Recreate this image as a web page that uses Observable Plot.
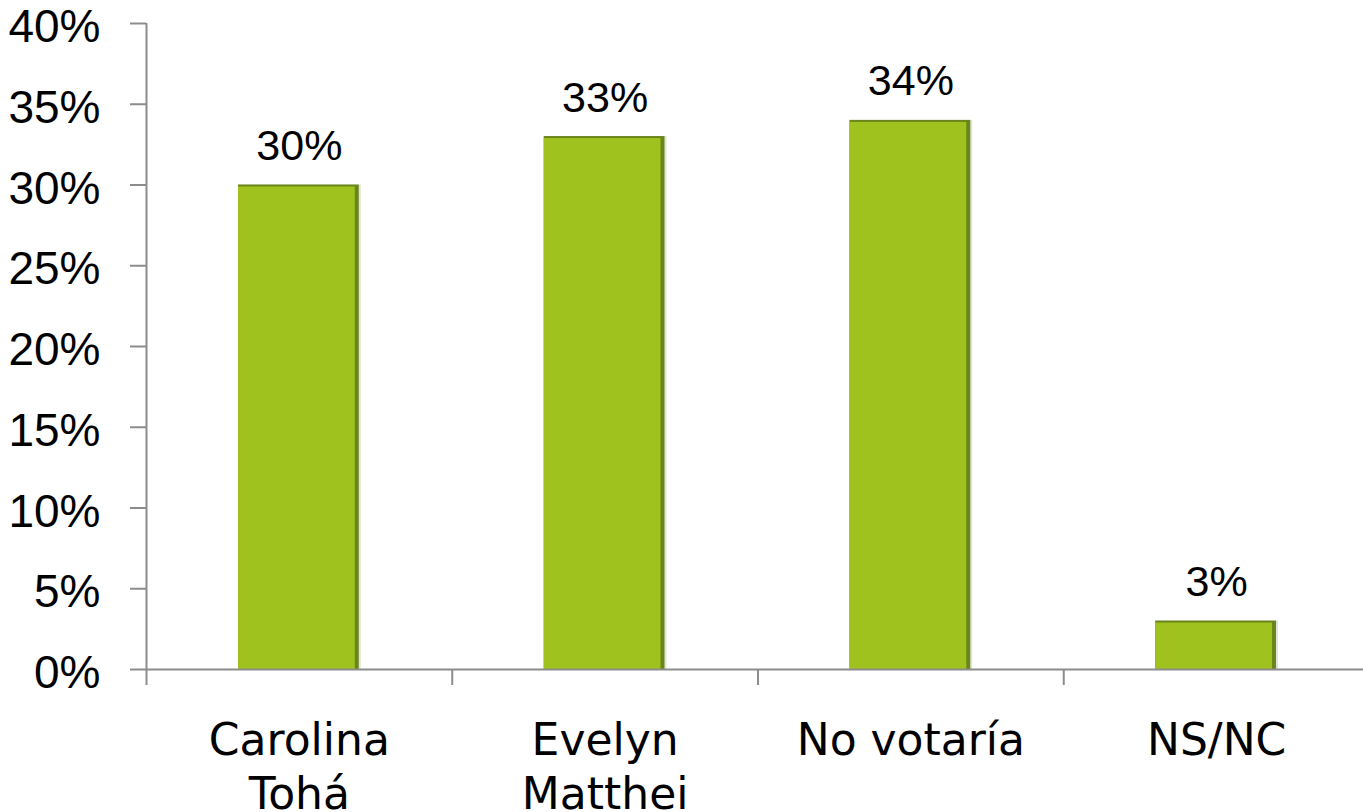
<!DOCTYPE html>
<html>
<head>
<meta charset="utf-8">
<script src="https://cdn.jsdelivr.net/npm/d3@7"></script>
<script src="https://cdn.jsdelivr.net/npm/@observablehq/plot@0.6"></script>
<style>
  html, body { margin: 0; padding: 0; background: #ffffff; }
  #chart svg { display: block; }
</style>
</head>
<body>
<div id="chart"></div>
<script>
const categories = ["Carolina Tohá", "Evelyn Matthei", "No votaría", "NS/NC"];
const axisLabels = ["Carolina\nTohá", "Evelyn\nMatthei", "No votaría", "NS/NC"];
const values = [0.30, 0.33, 0.34, 0.03];
const valueLabels = ["30%", "33%", "34%", "3%"];
const yTicks = [0, 0.05, 0.10, 0.15, 0.20, 0.25, 0.30, 0.35, 0.40];
const yTickLabels = ["0%", "5%", "10%", "15%", "20%", "25%", "30%", "35%", "40%"];

const data = categories.map((c, i) => ({
  category: c, label: axisLabels[i], value: values[i], text: valueLabels[i], pos: i
}));
const yTickData = yTicks.map((v, i) => ({ value: v, label: yTickLabels[i] }));

const axisColor = "#8c8c8c";
const barColor = "#a0c21e";
const edgeColor = "#6a851c";
const numFont = "'Liberation Sans', Arial, sans-serif";
const labelFont = "'DejaVu Sans', sans-serif";

const plot = Plot.plot({
  width: 1363,
  height: 812,
  marginLeft: 146,
  marginRight: 0,
  marginTop: 23,
  marginBottom: 143,
  style: { fontFamily: numFont, background: "#ffffff", color: "#000" },
  x: { domain: [0, categories.length], range: [146, 1369], axis: null, label: null },
  y: { domain: [0, 0.4], axis: null, label: null },
  marks: [
    Plot.axisY({
      ticks: yTicks,
      tickFormat: () => "",
      tickSize: 16,
      stroke: axisColor,
      strokeWidth: 2,
      label: null
    }),
    Plot.text(yTickData, {
      x: 0, y: "value", text: "label", textAnchor: "end",
      dx: -46, dy: 4, fontSize: 46, fill: "#000"
    }),
    Plot.axisX({
      ticks: d3.range(categories.length + 1),
      tickFormat: () => "",
      tickSize: 16,
      stroke: axisColor,
      strokeWidth: 2,
      label: null
    }),
    Plot.rectY(data, {
      x1: "pos", x2: (d) => d.pos + 1, y1: 0, y2: "value",
      insetLeft: 92, insetRight: 91, fill: "#dfe6d3"
    }),
    Plot.rectY(data, {
      x1: "pos", x2: (d) => d.pos + 1, y1: 0, y2: "value",
      insetLeft: 92, insetRight: 93, fill: edgeColor
    }),
    Plot.rectY(data, {
      x1: "pos", x2: (d) => d.pos + 1, y1: 0, y2: "value",
      insetLeft: 92, insetRight: 97, insetTop: 2, fill: barColor
    }),
    Plot.ruleX([0], { stroke: axisColor, strokeWidth: 2 }),
    Plot.ruleY([0], { stroke: axisColor, strokeWidth: 2 }),
    Plot.text(data, {
      x: (d) => d.pos + 0.5, y: "value", text: "text",
      lineAnchor: "bottom", dy: -25, fontSize: 43, fill: "#000"
    }),
    Plot.text(data, {
      x: (d) => d.pos + 0.5, y: 0, text: "label",
      lineAnchor: "top", dy: 47, fontSize: 44, lineHeight: 1.23, fill: "#000",
      fontFamily: labelFont
    })
  ]
});

document.getElementById("chart").appendChild(plot);
</script>
</body>
</html>
